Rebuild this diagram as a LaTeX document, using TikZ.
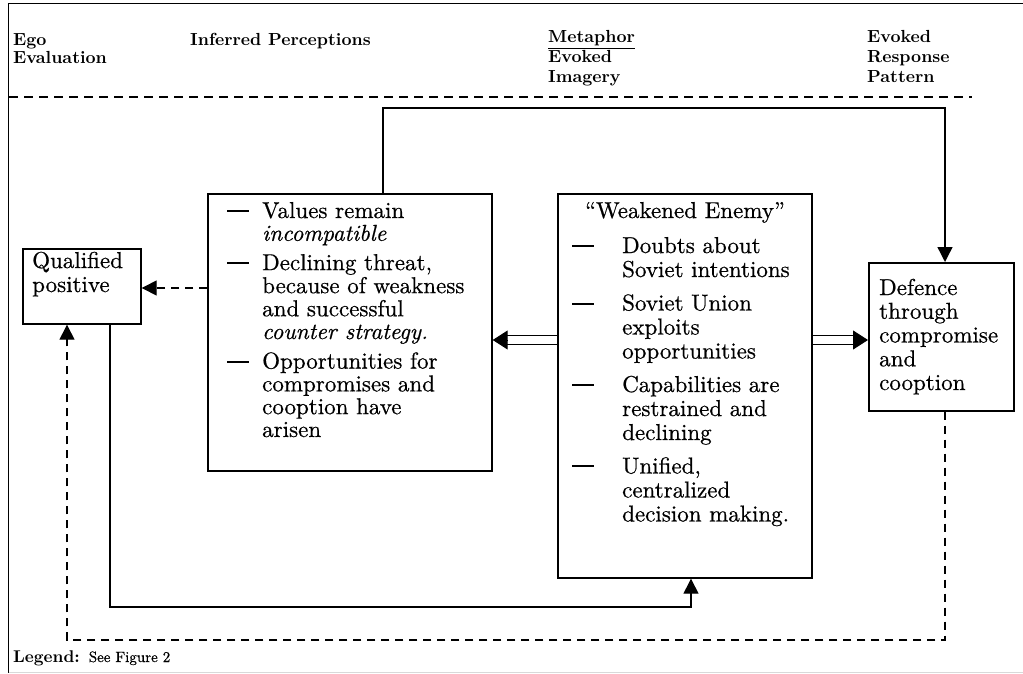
\documentclass[tikz,border=0pt]{standalone}
\usepackage{fontspec}
\setmainfont{lmroman10-regular.otf}[
  BoldFont=lmroman10-bold.otf,
  ItalicFont=lmroman10-italic.otf,
  BoldItalicFont=lmroman10-bolditalic.otf,
  UprightFeatures={FakeBold=0.6},
  ItalicFeatures={FakeBold=0.6}]
\usetikzlibrary{arrows.meta,calc}

% list bullet: a short heavy dash
\newcommand\itemdash{\rule[6pt]{22pt}{2pt}}

\begin{document}
\begin{tikzpicture}[x=1pt,y=-1pt,
  box/.style={draw, line width=1.7pt, inner sep=0pt, anchor=north west},
  txt/.style={anchor=base west, inner sep=0pt, font=\fontsize{23}{23}\selectfont},
  hdr/.style={anchor=base west, inner sep=0pt, font=\fontsize{17.5}{20}\selectfont\bfseries},
  link/.style={line width=1.4pt},
  dashedlink/.style={line width=1.4pt, dash pattern=on 8pt off 6pt},
  tip/.style={-{Triangle[length=15pt,width=15pt]}},
  bigtip/.style={-{Triangle[length=15pt,width=19pt]}, line width=1pt}
]
\useasboundingbox (0,0) rectangle (1023,674);

% page frame
\draw[line width=1.5pt] (1023,3.5) -- (8.5,3.5) -- (8.5,673);
\draw[gray!30, line width=1pt] (8.5,672.5) -- (1023,672.5);

% column headings
\node[hdr, font=\fontsize{17.5}{18}\selectfont\bfseries] (hego) at (13,46)
  {\begin{tabular}[t]{@{}l@{}}Ego\\Evaluation\end{tabular}};
\node[hdr] (hinf) at (190,46) {Inferred Perceptions};
\node[hdr] (hmet) at (548,43)
  {\begin{tabular}[t]{@{}l@{}}\underline{Metaphor}\\Evoked\\Imagery\end{tabular}};
\node[hdr] (hresp) at (867,43)
  {\begin{tabular}[t]{@{}l@{}}Evoked\\Response\\Pattern\end{tabular}};
\draw[line width=1.3pt, dash pattern=on 9pt off 6pt] (9,97) -- (972,97);

% boxes
\node[box, minimum width=118pt, minimum height=75pt]  (qual)  at (22,248)  {};
\node[box, minimum width=284pt, minimum height=277pt] (infer) at (207,193) {};
\node[box, minimum width=254pt, minimum height=384pt] (weak)  at (557,193) {};
\node[box, minimum width=145pt, minimum height=148pt] (def)   at (868,262) {};

% box contents
\node[txt, font=\fontsize{23}{24}\selectfont] (qualtxt) at (32,268)
  {\begin{tabular}[t]{@{}l@{}}Qualified\\positive\end{tabular}};

\node[txt, font=\fontsize{23}{22.8}\selectfont] (infertxt) at (227,218)
  {\begin{tabular}[t]{@{}p{35pt}@{}l@{}}
   \itemdash&Values remain\\
      &\textit{incompatible}\\[6.5pt]
   \itemdash&Declining threat,\\
      &because of weakness\\
      &and successful\\
      &\textit{counter strategy.}\\[6.5pt]
   \itemdash&Opportunities for\\
      &compromises and\\
      &cooption have\\
      &arisen
   \end{tabular}};

\node[anchor=base, inner sep=0pt, font=\fontsize{23}{24}\selectfont] (weakhead) at (685,218)
  {``Weakened Enemy''};
\node[txt, font=\fontsize{23}{24}\selectfont] (weaktxt) at (572,253)
  {\begin{tabular}[t]{@{}p{50pt}@{}l@{}}
   \itemdash&Doubts about\\
      &Soviet intentions\\[9.5pt]
   \itemdash&Soviet Union\\
      &exploits\\
      &opportunities\\[9.5pt]
   \itemdash&Capabilities are\\
      &restrained and\\
      &declining\\[9.5pt]
   \itemdash&Unified,\\
      &centralized\\
      &decision making.
   \end{tabular}};

\node[txt, font=\fontsize{23}{23.75}\selectfont] (deftxt) at (879,295)
  {\begin{tabular}[t]{@{}l@{}}Defence\\through\\compromise\\and\\cooption\end{tabular}};

% routing levels
\coordinate (loopy) at (0,108);
\coordinate (dashy) at (0,640);
\coordinate (soly)  at (0,607);
\coordinate (qy)    at (0,288);
\coordinate (dbly)  at (0,340);
\coordinate (loopx) at (383,0);
\coordinate (defx)  at (945,0);
\coordinate (qdx)   at (67,0);
\coordinate (qsx)   at (110,0);
\coordinate (wsx)   at (691,0);

% connectors
\draw[link, tip] (infer.north -| loopx) -- (loopx |- loopy) -- (defx |- loopy) -- (def.north -| defx);
\draw[dashedlink, tip] (infer.west |- qy) -- (qual.east |- qy);
\draw[dashedlink, tip] (def.south -| defx) -- (defx |- dashy) -- (qdx |- dashy) -- (qual.south -| qdx);
\draw[link, tip] (qual.south -| qsx) -- (qsx |- soly) -- (wsx |- soly) -- (weak.south -| wsx);

% double arrows out of the metaphor box
\draw[link] ($(weak.west |- dbly)+(0,-4.5)$) -- ($(infer.east |- dbly)+(12,-4.5)$);
\draw[link] ($(weak.west |- dbly)+(0,4.5)$)  -- ($(infer.east |- dbly)+(12,4.5)$);
\draw[bigtip] ($(infer.east |- dbly)+(14,0)$) -- (infer.east |- dbly);
\draw[link] ($(weak.east |- dbly)+(0,-4.5)$) -- ($(def.west |- dbly)+(-12,-4.5)$);
\draw[link] ($(weak.east |- dbly)+(0,4.5)$)  -- ($(def.west |- dbly)+(-12,4.5)$);
\draw[bigtip] ($(def.west |- dbly)+(-14,0)$) -- (def.west |- dbly);

% legend
\node[anchor=base west, inner sep=0pt] (legend) at (13,662)
  {\fontsize{17}{18}\selectfont\textbf{Legend:}\hspace{9pt}{\fontsize{15}{16}\selectfont See Figure 2}};
\end{tikzpicture}
\end{document}
